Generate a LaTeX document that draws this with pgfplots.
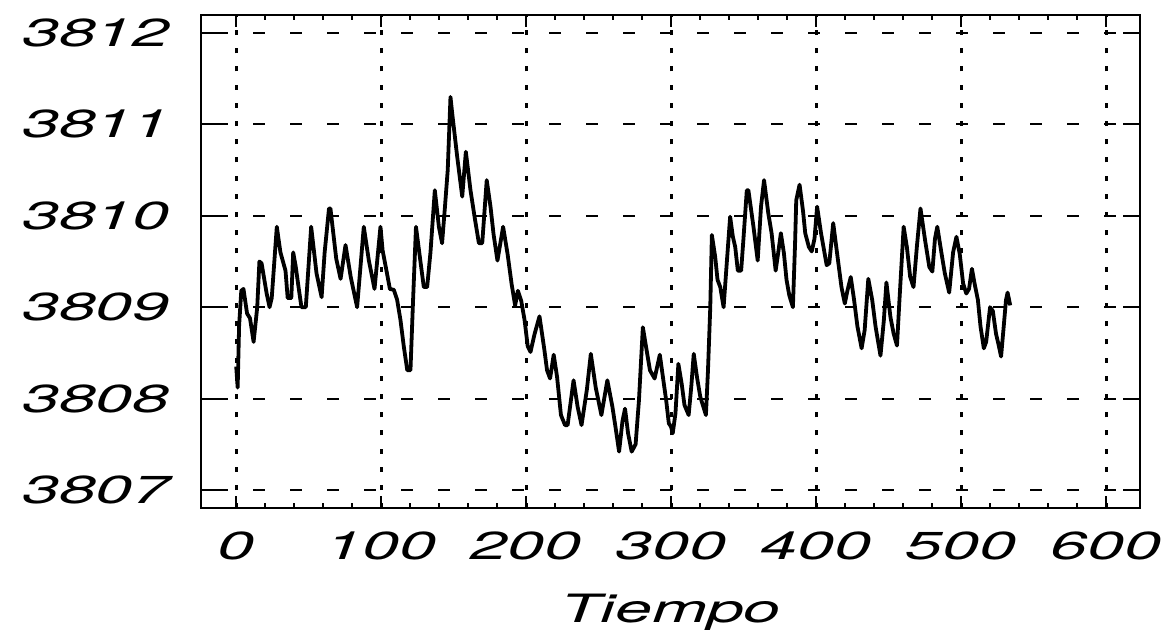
\documentclass[border=0pt]{standalone}
\usepackage{fontspec}
\setmainfont{TeX Gyre Heros}
\usepackage{graphicx}
\usepackage{pgfplots}
\pgfplotsset{compat=1.18}

% wide oblique lettering used for all labels
\newcommand{\lab}[1]{\scalebox{1.7}[1]{\fontsize{19.5}{23}\selectfont\itshape #1}}

\begin{document}
\begin{tikzpicture}
\useasboundingbox (-100.35pt,-60.85pt) rectangle (481.15pt,254.15pt);
\begin{axis}[
  scale only axis,
  width=469.7pt, height=246.8pt,
  xmin=-24.5, xmax=623.5,
  ymin=3806.8, ymax=3812.2,
  xtick={0,100,...,600},
  ytick={3807,3808,...,3812},
  minor x tick num=4,
  minor y tick num=4,
  tick align=inside,
  xtick pos=both, ytick pos=both,
  axis line style={black, line width=1.1pt},
  tick style={black, line width=1pt},
  xtick style={/pgfplots/major tick length=6pt, /pgfplots/minor tick length=2.5pt},
  ytick style={/pgfplots/major tick length=8.5pt, /pgfplots/minor tick length=4.5pt},
  grid=major,
  major x grid style={black, line width=1.5pt, dash pattern=on 2.5pt off 6.6pt},
  major y grid style={black, line width=0.95pt, dash pattern=on 6pt off 12.5pt, dash phase=10.65pt},
  /pgf/number format/1000 sep={},
  /pgf/number format/assume math mode=true,
  xticklabel={\lab{\pgfmathprintnumber{\tick}}},
  yticklabel={\lab{\pgfmathprintnumber{\tick}}},
  xticklabel style={anchor=north, yshift=-8pt},
  yticklabel style={anchor=east, xshift=-12pt},
  xlabel={\lab{Tiempo}},
  xlabel style={at={(axis description cs:0.5,0)}, anchor=base, yshift=-57.3pt},
]
\addplot[black, line width=1.9pt, line join=round] coordinates {
(0,3808.35) (1,3808.12) (2,3808.8) (3.5,3809.18) (5,3809.2) (7.5,3808.93)
(9.5,3808.88) (12,3808.62) (14.5,3809.0) (16,3809.5) (17.5,3809.48) (21,3809.15)
(23,3809.0) (24.5,3809.1) (28,3809.88) (30.5,3809.6) (34,3809.4) (35.5,3809.1)
(38,3809.1) (39.3,3809.6) (41,3809.45) (43,3809.22) (45,3809.0) (48,3809.0)
(51.7,3809.88) (55.4,3809.37) (58.9,3809.11) (61,3809.6) (64,3810.08) (65,3810.08)
(69,3809.53) (72,3809.31) (75.4,3809.68) (79,3809.33) (83.4,3809.0) (88,3809.88)
(91.5,3809.51) (95.4,3809.2) (99.5,3809.88) (101,3809.62) (104,3809.37) (106,3809.2)
(108.7,3809.19) (111,3809.08) (113.3,3808.86) (115.6,3808.57) (118,3808.31) (120.2,3808.31)
(122,3809.08) (124,3809.88) (127,3809.51) (129.4,3809.22) (131.7,3809.22) (134,3809.6)
(137,3810.28) (139.8,3809.88) (142,3809.7) (144,3810.1) (145.9,3810.5) (147.8,3811.30)
(149,3811.12) (152.4,3810.65) (155.9,3810.21) (158.4,3810.7) (161.6,3810.28) (164.4,3809.99)
(167.4,3809.7) (169.7,3809.7) (172.8,3810.39) (175.4,3810.1) (177.5,3809.8) (180.2,3809.51)
(184.1,3809.88) (187.2,3809.58) (190,3809.25) (192.4,3809.02) (194.3,3809.18) (196.6,3809.07)
(198.9,3808.86) (201.1,3808.57) (203,3808.51) (205.7,3808.7) (209.2,3808.9) (212.6,3808.53)
(214.4,3808.31) (216.5,3808.22) (219,3808.48) (221.3,3808.24) (224,3807.82) (226.8,3807.71)
(228.6,3807.71) (232.7,3808.2) (235.5,3807.91) (238.2,3807.71) (241.9,3808.1) (244.6,3808.49)
(248,3808.12) (251.9,3807.82) (256,3808.2) (259.5,3807.91) (261.8,3807.67) (264.1,3807.42)
(266.4,3807.75) (268.2,3807.89) (270.3,3807.62) (272.8,3807.42) (275.5,3807.5) (277.8,3807.98)
(280.5,3808.78) (283.5,3808.49) (285.4,3808.31) (288.6,3808.22) (292.2,3808.48) (295,3808.16)
(296.6,3807.98) (298.4,3807.73) (300,3807.69) (301.1,3807.62) (303,3807.84) (305,3808.38)
(307.3,3808.16) (309.2,3807.93) (312.1,3807.82) (314,3808.15) (315.6,3808.49) (317.8,3808.24)
(320.1,3808.02) (324,3807.82) (325.4,3808.3) (327,3809.0) (328.1,3809.79) (330.4,3809.55)
(332,3809.3) (333.9,3809.22) (336.2,3809.0) (338.5,3809.51) (340.7,3809.99) (342.6,3809.77)
(344.2,3809.66) (346,3809.4) (348.3,3809.4) (349.9,3809.75) (352.2,3810.28) (353.3,3810.28)
(356.8,3809.88) (359.7,3809.51) (362,3810.1) (364.1,3810.39) (367,3810.03) (369.3,3809.81)
(372.1,3809.4) (373.9,3809.6) (375.7,3809.81) (377.8,3809.59) (379.6,3809.3) (381.5,3809.13)
(384,3809.0) (385.5,3809.7) (386.3,3810.17) (388.6,3810.34) (391,3810.05) (392.5,3809.81)
(395,3809.66) (397,3809.61) (398.9,3809.75) (400.7,3810.1) (403.4,3809.81) (407.3,3809.46)
(409.1,3809.48) (411.8,3809.92) (414.8,3809.55) (417.5,3809.22) (419.8,3809.04) (421.6,3809.18)
(423.9,3809.33) (426.2,3809.08) (428.5,3808.79) (431.4,3808.55) (433.5,3808.75) (436,3809.31)
(438.7,3809.08) (441,3808.79) (444.4,3808.47) (446.7,3808.85) (448.5,3809.27) (451.3,3808.89)
(453.5,3808.71) (455.8,3808.58) (457.4,3809.05) (460.4,3809.88) (462.6,3809.66) (464.9,3809.33)
(467.2,3809.22) (469.5,3809.66) (472,3810.08) (475.2,3809.73) (478.1,3809.44) (480.2,3809.39)
(482,3809.75) (483.6,3809.88) (486.6,3809.58) (488.8,3809.37) (491.8,3809.16) (494.5,3809.6)
(496.8,3809.77) (499.1,3809.58) (501.4,3809.26) (503.6,3809.15) (505.5,3809.2) (507.5,3809.42)
(509.3,3809.26) (511.6,3809.08) (513.4,3808.79) (515.7,3808.55) (517.3,3808.62) (520,3809.0)
(521.9,3808.96) (524.1,3808.71) (526,3808.58) (527.6,3808.46) (529.2,3808.75) (531,3809.08)
(532.1,3809.16) (533.9,3809.02)
};
\end{axis}
\end{tikzpicture}
\end{document}
